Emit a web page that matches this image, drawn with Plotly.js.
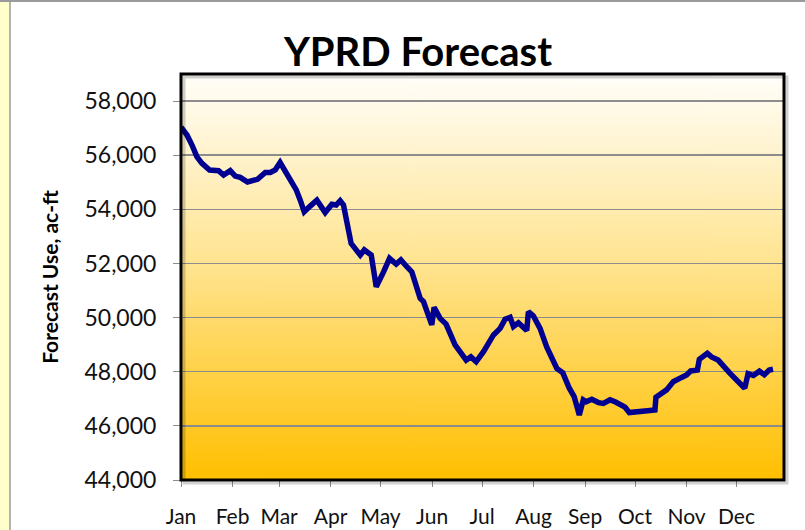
<!DOCTYPE html>
<html>
<head>
<meta charset="utf-8">
<script src="https://cdn.plot.ly/plotly-3.0.1.min.js"></script>
<style>
  html, body { margin: 0; padding: 0; background: #ffffff; }
  #chart { width: 805px; height: 530px; }
</style>
</head>
<body>
<div id="chart"></div>
<script>
// Day of year (0 = Jan 1) and forecast use (ac-ft)
const days = [0, 3.6, 6.6, 9.6, 12.6, 17.2, 22.6, 25.6, 29.6, 32.6, 35.6, 40, 46, 50.7, 53.7, 56.7, 59.6,
  62.7, 65.7, 69.3, 71.7, 74.1, 77.7, 81.7, 86.7, 90.7, 93.3, 95.7, 97.7, 99.8, 102.3, 107.8, 110.2,
  114.4, 117.4, 121.8, 125.4, 129.4, 132.2, 135.8, 138.8, 143.8, 145.8, 150.8, 152.2, 155.8, 159.4,
  164.8, 167.9, 171.5, 174.3, 177.5, 181.9, 187.9, 191.9, 194.9, 197.9, 199.9, 202.9, 207.9, 208.9,
  211.9, 215.9, 219.9, 226, 229.6, 233.5, 236.4, 239.5, 241.9, 243.6, 247, 251, 254, 258, 261, 267,
  269.6, 285, 285.6, 292, 296, 301, 304, 306.5, 310.5, 311.7, 316.5, 319, 323, 330, 335, 339, 341,
  344.2, 347.8, 350.8, 353.7, 356];
const forecastUse = [57040, 56745, 56375, 55940, 55700, 55450, 55430, 55270, 55430, 55230, 55180, 55010,
  55110, 55360, 55360, 55460, 55730, 55400, 55070, 54720, 54340, 53910, 54120, 54340, 53880, 54190,
  54160, 54320, 54160, 53480, 52740, 52310, 52500, 52310, 51140, 51690, 52190, 51980, 52130, 51880,
  51690, 50710, 50590, 49730, 50380, 49970, 49760, 48990, 48740, 48430, 48550, 48370, 48740, 49360,
  49600, 49940, 50010, 49670, 49810, 49520, 50220, 50060, 49600, 48920, 48120, 47960, 47390, 47080,
  46400, 46960, 46890, 46980, 46860, 46830, 46960, 46890, 46690, 46490, 46590, 47060, 47330, 47630,
  47790, 47880, 48030, 48060, 48460, 48680, 48550, 48430, 47950, 47600, 47390, 47930, 47860, 48020,
  47890, 48060, 48090];

const monthStarts = [0, 31, 59, 90, 120, 151, 181, 212, 243, 273, 304, 334];
const monthLabels = ["Jan", "Feb", "Mar", "Apr", "May", "Jun", "Jul", "Aug", "Sep", "Oct", "Nov", "Dec"];
const yTicks = [44000, 46000, 48000, 50000, 52000, 54000, 56000, 58000];

// gradient background for the plot area
function gradientURL() {
  const c = document.createElement('canvas');
  c.width = 4; c.height = 400;
  const g = c.getContext('2d');
  const lg = g.createLinearGradient(0, 0, 0, 400);
  lg.addColorStop(0, '#fffefa');
  lg.addColorStop(0.5, '#ffe288');
  lg.addColorStop(1, '#ffbf00');
  g.fillStyle = lg;
  g.fillRect(0, 0, 4, 400);
  return c.toDataURL();
}

const W = 805, H = 530;
const margin = { l: 181, r: 21, t: 74, b: 50 };
const pw = W - margin.l - margin.r, ph = H - margin.t - margin.b;
const px = v => (v - margin.l) / pw;         // pixel -> paper x
const py = v => (H - margin.b - v) / ph;     // pixel -> paper y

const trace = {
  x: days, y: forecastUse, type: 'scatter', mode: 'lines',
  line: { color: '#000090', width: 5.5 },
  hoverinfo: 'skip'
};

const font = "Lato, 'Open Sans', 'Liberation Sans', sans-serif";

const layout = {
  width: W, height: H,
  margin: margin,
  paper_bgcolor: '#ffffff',
  plot_bgcolor: 'rgba(0,0,0,0)',
  showlegend: false,
  title: {
    text: '<b>YPRD Forecast</b>',
    font: { family: font, size: 40, color: '#000000' },
    x: 418 / W, xref: 'container', xanchor: 'center',
    y: 1 - 52 / H, yref: 'container', yanchor: 'middle'
  },
  xaxis: {
    range: [0, 362.6],
    tickmode: 'array', tickvals: monthStarts, ticktext: monthLabels,
    ticks: 'outside', ticklen: 6, tickcolor: '#8c8c8c', tickwidth: 1,
    tickfont: { family: font, size: 21, color: '#111111' },
    ticklabelstandoff: 12,
    showgrid: false, zeroline: false, showline: false,
    fixedrange: true
  },
  yaxis: {
    range: [44000, 59000],
    tickmode: 'array', tickvals: yTicks,
    tickformat: ',d',
    ticks: 'outside', ticklen: 7, tickcolor: '#8c8c8c', tickwidth: 1,
    tickfont: { family: font, size: 23, color: '#111111' },
    ticklabelstandoff: 12,
    showgrid: true, gridcolor: '#8c8c8c', gridwidth: 1.5,
    zeroline: false, showline: false,
    title: {
      text: '<b>Forecast Use, ac-ft</b>',
      font: { family: font, size: 21, color: '#000000' },
      standoff: 20
    },
    fixedrange: true
  },
  images: [{
    source: gradientURL(), xref: 'paper', yref: 'paper',
    x: 0, y: 1, sizex: 1, sizey: 1, xanchor: 'left', yanchor: 'top',
    sizing: 'stretch', layer: 'below'
  }],
  shapes: [
    // left pale-yellow strip and outer frame lines
    { type: 'rect', xref: 'paper', yref: 'paper', x0: px(0), x1: px(9.5), y0: py(H), y1: py(0),
      fillcolor: '#ffffcc', line: { width: 0 }, layer: 'below' },
    { type: 'line', xref: 'paper', yref: 'paper', x0: px(10), x1: px(10), y0: py(H), y1: py(0),
      line: { color: '#9a9a9a', width: 1.5 } },
    { type: 'line', xref: 'paper', yref: 'paper', x0: px(0), x1: px(W), y0: py(1), y1: py(1),
      line: { color: '#9a9a9a', width: 2 } },
    // soft shadow of the plot frame
    { type: 'rect', xref: 'paper', yref: 'paper', x0: px(margin.l + 3), x1: px(W - margin.r + 3),
      y0: py(H - margin.b + 3), y1: py(margin.t + 3),
      line: { color: 'rgba(0,0,0,0.18)', width: 3 }, fillcolor: 'rgba(0,0,0,0)' },
    // plot frame
    { type: 'rect', xref: 'paper', yref: 'paper', x0: 0, x1: 1, y0: 0, y1: 1,
      line: { color: '#000000', width: 3 }, fillcolor: 'rgba(0,0,0,0)' }
  ]
};

Plotly.newPlot('chart', [trace], layout, { displayModeBar: false, staticPlot: true });
</script>
</body>
</html>
